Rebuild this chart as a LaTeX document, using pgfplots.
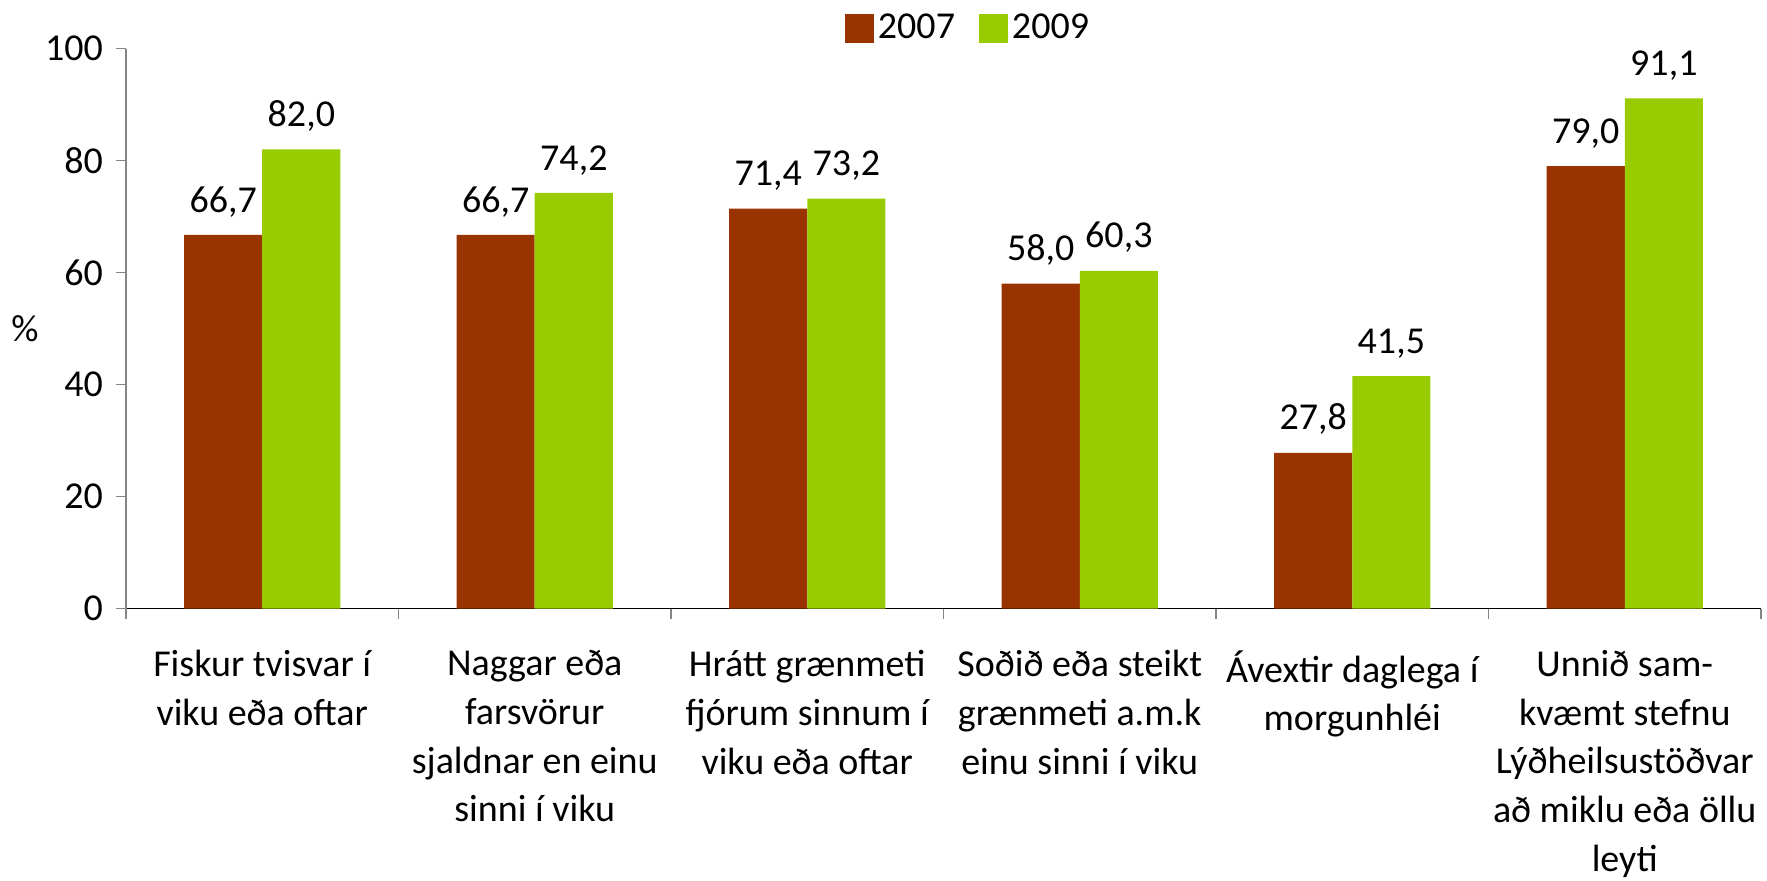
\documentclass[border=0pt]{standalone}
\usepackage{fontspec}
\setmainfont{Carlito}
\usepackage{pgfplots}
\pgfplotsset{compat=1.18}
\definecolor{c07}{HTML}{993300}
\definecolor{c09}{HTML}{99CC00}
\definecolor{axgray}{HTML}{868686}
\newcommand{\cf}{\fontsize{19}{24.3}\selectfont}
\pgfplotstableread{
x y07 y09
0 66.7 82.0
1 66.7 74.2
2 71.4 73.2
3 58.0 60.3
4 27.8 41.5
5 79.0 91.1
}\datatable
\begin{document}
\begin{tikzpicture}
\begin{axis}[
  at={(0,0)}, anchor=south west,
  scale only axis, width=817.5pt, height=280pt,
  ybar=0pt, bar width=0.287,
  xmin=-0.5, xmax=5.5, ymin=0, ymax=100,
  ytick={0,20,...,100},
  xtick={-0.5,0.5,...,5.5},
  x tick label as interval,
  xticklabels={{Fiskur tvisvar í\\viku eða oftar},
               {Naggar eða\\farsvörur\\sjaldnar en einu\\sinni í viku},
               {Hrátt grænmeti\\fjórum sinnum í\\viku eða oftar},
               {Soðið eða steikt\\grænmeti a.m.k\\einu sinni í viku},
               {Ávextir daglega í\\morgunhléi},
               {Unnið sam-\\kvæmt stefnu\\Lýðheilsustöðvar\\að miklu eða öllu\\leyti}},
  xticklabel style={align=center, font=\cf, anchor=north, yshift=-12.5pt},
  yticklabel style={font=\cf, xshift=-3pt},
  /pgf/number format/assume math mode=true,
  axis x line*=bottom, axis y line*=left,
  x axis line style={black, line width=0.8pt},
  y axis line style={axgray, line width=0.8pt},
  tick align=outside,
  major tick length=5pt,
  tick style={axgray, line width=0.8pt},
  ylabel={\%},
  ylabel style={rotate=-90, font=\cf, at={(axis description cs:-0.0618,0.5)}, anchor=center},
  nodes near coords={\pgfmathprintnumber[fixed,fixed zerofill,precision=1,use comma,assume math mode=true]{\pgfplotspointmeta}},
  every node near coord/.append style={font=\cf, black, yshift=5.5pt},
  legend style={at={(axis description cs:0.5156,1.0366)}, anchor=center, draw=none, fill=none,
    legend columns=2, font=\cf, inner sep=0pt,
    /tikz/every even column/.append style={column sep=10pt}},
]
\addplot[fill=c07, draw=none, legend image code/.code={\fill[c07] (0pt,-7.25pt) rectangle (14.5pt,7.25pt);}] table[x=x, y=y07] {\datatable};
\addplot[fill=c09, draw=none, legend image code/.code={\fill[c09] (0pt,-7.25pt) rectangle (14.5pt,7.25pt);}] table[x=x, y=y09] {\datatable};
\legend{2007,2009}
\end{axis}
\pgfresetboundingbox
\path[use as bounding box] (-63pt,-135.75pt) rectangle (820.5pt,304.25pt);
\end{tikzpicture}
\end{document}
